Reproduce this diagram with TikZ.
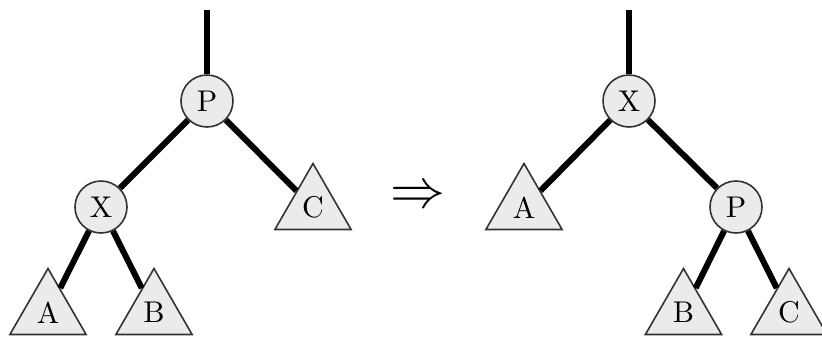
\documentclass[tikz,border=0pt]{standalone}
\usepackage{fontspec}
\usepackage{graphicx}
\usetikzlibrary{shapes.geometric}
\newcommand\biglbl[1]{\scalebox{3}{#1}}
\begin{document}
\begin{tikzpicture}[x=1pt,y=-1pt,
  circ/.style={circle,draw=black!80,fill=black!8,line width=1.6pt,minimum size=52pt,inner sep=0pt},
  tri/.style={regular polygon,regular polygon sides=3,draw=black!80,fill=black!8,line width=1.6pt,minimum size=88pt,inner sep=0pt},
  edge/.style={line width=6pt}]
\useasboundingbox (0,0) rectangle (822,341);
% left tree
\coordinate (topL) at (207,10);
\node[circ] (P1) at (207,101) {\biglbl{P}};
\node[circ] (X1) at (101,207) {\biglbl{X}};
\node[tri] (A1) at (48,312.5) {\biglbl{A}};
\node[tri] (B1) at (154,312.5) {\biglbl{B}};
\node[tri] (C1) at (313,207.5) {\biglbl{C}};
\draw[edge] (topL) -- (P1);
\draw[edge] (P1) -- (X1);
\draw[edge] (P1) -- (C1);
\draw[edge] (X1) -- (A1);
\draw[edge] (X1) -- (B1);
% arrow
\node[inner sep=0pt,anchor=base] (arr) at (418,207) {\scalebox{5.5}{$\Rightarrow$}};
% right tree
\coordinate (topR) at (629,10);
\node[circ] (X2) at (629,101) {\biglbl{X}};
\node[circ] (P2) at (736,207) {\biglbl{P}};
\node[tri] (A2) at (524,207.5) {\biglbl{A}};
\node[tri] (B2) at (683.5,312.5) {\biglbl{B}};
\node[tri] (C2) at (789,312.5) {\biglbl{C}};
\draw[edge] (topR) -- (X2);
\draw[edge] (X2) -- (A2);
\draw[edge] (X2) -- (P2);
\draw[edge] (P2) -- (B2);
\draw[edge] (P2) -- (C2);
\end{tikzpicture}
\end{document}
